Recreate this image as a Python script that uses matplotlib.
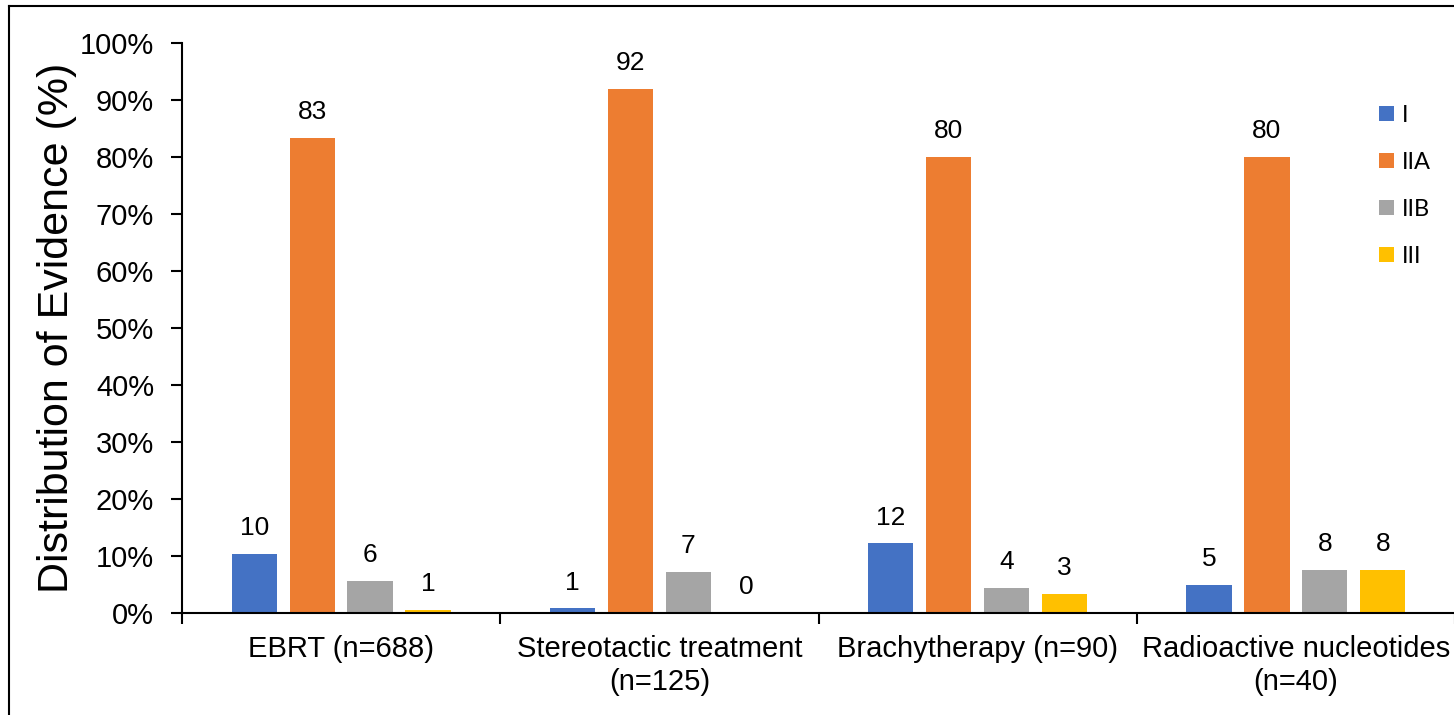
import matplotlib
matplotlib.use("Agg")
import matplotlib.pyplot as plt
from matplotlib.lines import Line2D
import numpy as np

plt.rcParams["font.family"] = ["Liberation Sans", "DejaVu Sans"]

categories = ["EBRT (n=688)", "Stereotactic treatment\n(n=125)",
              "Brachytherapy (n=90)", "Radioactive nucleotides\n(n=40)"]
levels = ["I", "IIA", "IIB", "III"]
colors = ["#4472C4", "#ED7D31", "#A5A5A5", "#FFC000"]

# percent of studies per level of evidence
pct_I = [10.4, 0.8, 12.2, 5.0]
pct_IIA = [83.3, 92.0, 80.0, 80.0]
pct_IIB = [5.7, 7.2, 4.4, 7.5]
pct_III = [0.6, 0.0, 3.3, 7.5]
labels_I = ["10", "1", "12", "5"]
labels_IIA = ["83", "92", "80", "80"]
labels_IIB = ["6", "7", "4", "8"]
labels_III = ["1", "0", "3", "8"]

series = [pct_I, pct_IIA, pct_IIB, pct_III]
series_labels = [labels_I, labels_IIA, labels_IIB, labels_III]

fig = plt.figure(figsize=(14.54, 7.15), dpi=100)
ax = fig.add_axes([182 / 1454, 102 / 715, 1273 / 1454, 570 / 715])

x = np.arange(len(categories))
width = 0.142
step = 0.182
for i, (vals, labs) in enumerate(zip(series, series_labels)):
    pos = x + (i - 1.5) * step
    ax.bar(pos, np.array(vals) / 100, width, color=colors[i], label=levels[i])
    for px, v, lab in zip(pos, vals, labs):
        ax.annotate(lab, (px, v / 100), xytext=(0, 10), textcoords="offset points",
                    ha="center", va="bottom", fontsize=19)

ax.set_xlim(-0.5, 3.5)
ax.set_ylim(0, 1.0)
ax.set_yticks(np.arange(0, 1.01, 0.1))
ax.set_yticklabels([f"{int(round(t * 100))}%" for t in np.arange(0, 1.01, 0.1)])
ax.set_xticks(x)
ax.set_xticklabels(categories)
ax.set_xticks(np.arange(-0.5, 3.6, 1), minor=True)
ax.tick_params(axis="x", which="major", length=0, pad=16, labelsize=21)
ax.tick_params(axis="x", which="minor", length=8, width=1.5, direction="out")
ax.tick_params(axis="y", length=8, width=1.5, direction="out", pad=12, labelsize=21)
for s in ["top", "right"]:
    ax.spines[s].set_visible(False)
for s in ["left", "bottom"]:
    ax.spines[s].set_linewidth(1.5)
ax.set_ylabel("Distribution of Evidence (%)", fontsize=31, labelpad=2)

ax.legend(loc="upper left", bbox_to_anchor=(1367 / 1454, 1 - 93 / 715),
          bbox_transform=fig.transFigure, frameon=False,
          handlelength=0.64, handleheight=0.64, handletextpad=0.34,
          labelspacing=1.1, borderpad=0, prop={"family": "Lato", "size": 17})

# outer frame (cropped on right and bottom)
fig.add_artist(Line2D([9 / 1454, 9 / 1454], [0, 1 - 6 / 715],
                      transform=fig.transFigure, color="black", lw=1.5))
fig.add_artist(Line2D([9 / 1454, 1], [1 - 6 / 715, 1 - 6 / 715],
                      transform=fig.transFigure, color="black", lw=1.5))

plt.savefig("out.png", dpi=100)
